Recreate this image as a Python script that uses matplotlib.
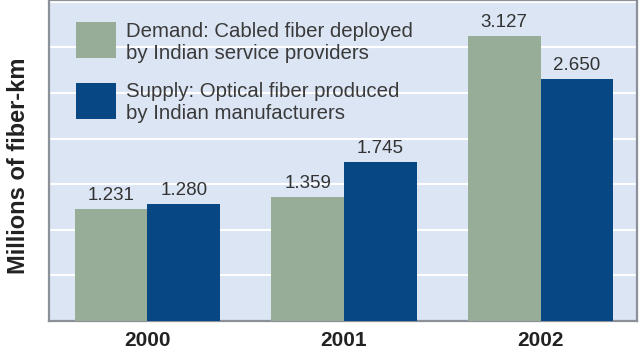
import matplotlib
matplotlib.use("Agg")
import matplotlib.pyplot as plt
from matplotlib.patches import Rectangle
import numpy as np

years = ["2000", "2001", "2002"]
demand = [1.231, 1.359, 3.127]
supply = [1.280, 1.745, 2.650]
demand_labels = ["1.231", "1.359", "3.127"]
supply_labels = ["1.280", "1.745", "2.650"]
legend_demand = "Demand: Cabled fiber deployed\nby Indian service providers"
legend_supply = "Supply: Optical fiber produced\nby Indian manufacturers"
ylabel = "Millions of fiber-km"

green = "#97ad98"
blue = "#064784"
bg = "#dbe5f4"
font = ["Liberation Sans", "DejaVu Sans"]
plt.rcParams["font.family"] = font

fig = plt.figure(figsize=(6.4, 3.51), dpi=100)
ax = fig.add_axes([49/640, 30/351, 588/640, 321/351])
ax.set_facecolor(bg)

x = np.arange(len(years))
w = 0.37
b1 = ax.bar(x - w/2, demand, w, color=green, zorder=3)
b2 = ax.bar(x + w/2, supply, w, color=blue, zorder=3)

for rect, lab in zip(b1, demand_labels):
    ax.annotate(lab, (rect.get_x() + rect.get_width()/2, rect.get_height()),
                xytext=(0, 3.5), textcoords="offset points", ha="center", va="bottom",
                fontsize=13.5, color="#333333")
for rect, lab in zip(b2, supply_labels):
    ax.annotate(lab, (rect.get_x() + rect.get_width()/2, rect.get_height()),
                xytext=(0, 3.5), textcoords="offset points", ha="center", va="bottom",
                fontsize=13.5, color="#333333")

ax.set_xlim(-0.5, 2.49)
ax.set_ylim(0, 3.52)
ax.set_yticks(np.arange(0.5, 3.51, 0.5))
ax.set_yticklabels([])
ax.tick_params(axis="y", length=0)
ax.grid(axis="y", color="white", linewidth=1.5, zorder=0)
ax.set_axisbelow(True)

ax.set_xticks(x)
ax.set_xticklabels(years, fontsize=15, fontweight="bold", color="#222222")
ax.tick_params(axis="x", length=0, pad=7)

ax.set_ylabel(ylabel, fontsize=17, fontweight="bold", color="#222222")
ax.yaxis.set_label_coords(-0.032, 0.483)

for s in ax.spines.values():
    s.set_color("#8c9099")
    s.set_linewidth(1.6)

# legend
ax.add_patch(Rectangle((0.046, 0.819), 0.068, 0.112, transform=ax.transAxes,
                       facecolor=green, edgecolor="none", zorder=4))
ax.add_patch(Rectangle((0.046, 0.629), 0.068, 0.112, transform=ax.transAxes,
                       facecolor=blue, edgecolor="none", zorder=4))
ax.text(0.131, 0.869, legend_demand, transform=ax.transAxes, ha="left", va="center",
        fontsize=14.7, color="#3a3a3a", linespacing=1.2, zorder=4)
ax.text(0.131, 0.682, legend_supply, transform=ax.transAxes, ha="left", va="center",
        fontsize=14.7, color="#3a3a3a", linespacing=1.2, zorder=4)

fig.savefig("out.png", dpi=100)
